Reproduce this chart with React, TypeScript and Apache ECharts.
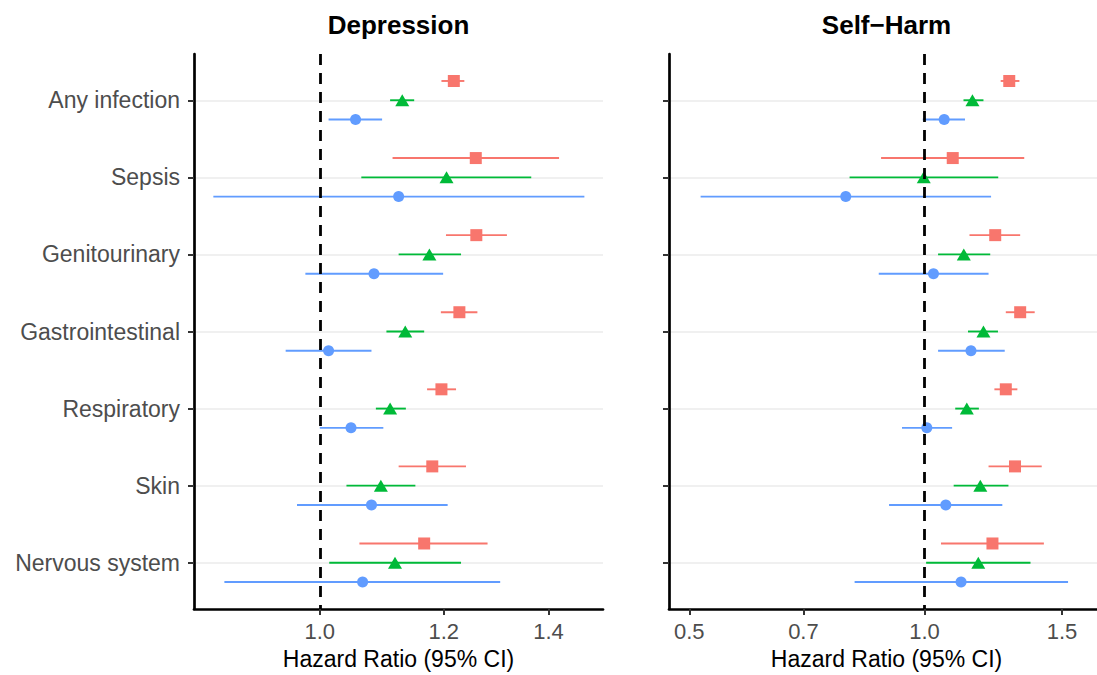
import React, { useEffect, useRef } from "react";
import * as echarts from "echarts";

// ---------- data ----------
const categories = [
  "Any infection",
  "Sepsis",
  "Genitourinary",
  "Gastrointestinal",
  "Respiratory",
  "Skin",
  "Nervous system",
];

const groupNames = ["Group 1", "Group 2", "Group 3"];
const groupColors = ["#F8766D", "#00BA38", "#619CFF"];
const groupSymbols = ["rect", "triangle", "circle"];

// Depression
const depRedEst = [1.218, 1.258, 1.259, 1.228, 1.196, 1.180, 1.166];
const depRedLo = [1.196, 1.113, 1.204, 1.195, 1.171, 1.123, 1.060];
const depRedHi = [1.237, 1.422, 1.317, 1.261, 1.222, 1.240, 1.280];
const depGreenEst = [1.129, 1.205, 1.175, 1.134, 1.109, 1.094, 1.117];
const depGreenLo = [1.109, 1.063, 1.123, 1.103, 1.086, 1.040, 1.014];
const depGreenHi = [1.149, 1.365, 1.231, 1.166, 1.135, 1.151, 1.231];
const depBlueEst = [1.054, 1.123, 1.083, 1.013, 1.047, 1.079, 1.065];
const depBlueLo = [1.013, 0.855, 0.979, 0.951, 1.000, 0.967, 0.869];
const depBlueHi = [1.096, 1.476, 1.199, 1.079, 1.098, 1.207, 1.304];

// Self-Harm
const shRedEst = [1.284, 1.087, 1.232, 1.326, 1.271, 1.306, 1.222];
const shRedLo = [1.252, 0.880, 1.142, 1.271, 1.229, 1.208, 1.050];
const shRedHi = [1.323, 1.342, 1.326, 1.384, 1.315, 1.413, 1.422];
const shGreenEst = [1.152, 0.998, 1.123, 1.190, 1.133, 1.179, 1.172];
const shGreenLo = [1.122, 0.802, 1.041, 1.137, 1.095, 1.090, 1.005];
const shGreenHi = [1.190, 1.243, 1.214, 1.242, 1.174, 1.281, 1.367];
const shBlueEst = [1.060, 0.793, 1.027, 1.147, 1.007, 1.065, 1.114];
const shBlueLo = [0.995, 0.517, 0.874, 1.041, 0.936, 0.901, 0.814];
const shBlueHi = [1.127, 1.217, 1.208, 1.267, 1.085, 1.258, 1.527];

const depTicks = [1.0, 1.2, 1.4];
const shTicks = [0.5, 0.7, 1.0, 1.5];
const depLimits = [0.831, 1.517];
const shLimits = [0.471, 1.663];

const FONT = '"Liberation Sans", Arial, Helvetica, sans-serif';

const panels = [
  {
    title: "Depression",
    est: [depRedEst, depGreenEst, depBlueEst],
    lo: [depRedLo, depGreenLo, depBlueLo],
    hi: [depRedHi, depGreenHi, depBlueHi],
    ticks: depTicks,
    limits: depLimits,
    showLabels: true,
    namePad: [0, 0, 0, 0],
  },
  {
    title: "Self\u2212Harm",
    est: [shRedEst, shGreenEst, shBlueEst],
    lo: [shRedLo, shGreenLo, shBlueLo],
    hi: [shRedHi, shGreenHi, shBlueHi],
    ticks: shTicks,
    limits: shLimits,
    showLabels: false,
    namePad: [0, 0, 0, 7],
  },
];

const dodge = [-0.25, 0, 0.25];

export default function App() {
  const ref = useRef<HTMLDivElement>(null);

  useEffect(() => {
    if (!ref.current) return;
    document.body.style.margin = "0";
    const chart = echarts.init(ref.current, null, { renderer: "svg" });

    const grids = [
      { left: 194, top: 54, width: 409, height: 557 },
      { left: 669, top: 54, width: 428, height: 557 },
    ];

    const xAxes = panels.map((p, pi) => ({
      type: "value",
      gridIndex: pi,
      min: Math.log10(p.limits[0]),
      max: Math.log10(p.limits[1]),
      name: "Hazard Ratio (95% CI)",
      nameLocation: "middle",
      nameGap: 38,
      nameTextStyle: { fontSize: 23, color: "#000", fontFamily: FONT, padding: p.namePad },
      axisLine: { show: true, onZero: false, lineStyle: { color: "#000", width: 2.7 } },
      axisTick: {
        show: true,
        length: 6,
        customValues: p.ticks.map((t) => Math.log10(t)),
        lineStyle: { color: "#333", width: 2 },
      },
      axisLabel: {
        show: true,
        customValues: p.ticks.map((t) => Math.log10(t)),
        formatter: (v: number) => Math.pow(10, v).toFixed(1),
        fontSize: 22,
        color: "#4D4D4D",
        margin: 11,
        fontFamily: FONT,
      },
      splitLine: { show: false },
    }));

    const yAxes = panels.map((p, pi) => ({
      type: "value",
      gridIndex: pi,
      inverse: true,
      min: -0.6,
      max: 6.6,
      axisLine: { show: true, onZero: false, lineStyle: { color: "#000", width: 2.7 } },
      axisTick: {
        show: true,
        length: 6,
        customValues: categories.map((_, i) => i),
        lineStyle: { color: "#333", width: 2 },
      },
      axisLabel: {
        show: p.showLabels,
        customValues: categories.map((_, i) => i),
        formatter: (v: number) => categories[Math.round(v)] ?? "",
        fontSize: 23,
        color: "#4D4D4D",
        margin: 14,
        fontFamily: FONT,
      },
      splitLine: { show: true, lineStyle: { color: "#EBEBEB", width: 1.7 } },
    }));

    const series: any[] = [];
    panels.forEach((p, pi) => {
      for (let g = 0; g < 3; g++) {
        const color = groupColors[g];
        series.push({
          type: "custom",
          name: groupNames[g],
          xAxisIndex: pi,
          yAxisIndex: pi,
          z: 2,
          encode: { x: [1, 2], y: 0 },
          data: categories.map((_, i) => [
            i + dodge[g],
            Math.log10(p.lo[g][i]),
            Math.log10(p.hi[g][i]),
          ]),
          renderItem: (params: any, api: any) => {
            const a = api.coord([api.value(1), api.value(0)]);
            const b = api.coord([api.value(2), api.value(0)]);
            return {
              type: "line",
              shape: { x1: a[0], y1: a[1], x2: b[0], y2: b[1] },
              style: { stroke: color, lineWidth: 1.9 },
            };
          },
        });
        series.push({
          type: "scatter",
          name: groupNames[g],
          xAxisIndex: pi,
          yAxisIndex: pi,
          z: 3,
          symbol: groupSymbols[g],
          symbolSize: g === 1 ? [14, 12] : g === 0 ? 12 : 11,
          itemStyle: { color, opacity: 1 },
          data: categories.map((_, i) => [Math.log10(p.est[g][i]), i + dodge[g]]),
        });
      }
      series.push({
        type: "line",
        name: "ref",
        xAxisIndex: pi,
        yAxisIndex: pi,
        z: 5,
        data: [],
        markLine: {
          silent: true,
          symbol: ["none", "none"],
          label: { show: false },
          lineStyle: { color: "#000", type: [11, 8], width: 2.8 },
          data: [{ xAxis: 0 }],
        },
      });
    });

    chart.setOption({
      animation: false,
      backgroundColor: "#fff",
      grid: grids,
      xAxis: xAxes,
      yAxis: yAxes,
      series,
      graphic: [
        {
          type: "text",
          x: 398.5,
          y: 25,
          style: {
            text: panels[0].title,
            fontSize: 26,
            fontWeight: "bold",
            fontFamily: FONT,
            fill: "#000",
            align: "center",
            verticalAlign: "middle",
          },
        },
        {
          type: "text",
          x: 886.5,
          y: 25,
          style: {
            text: panels[1].title,
            fontSize: 26,
            fontWeight: "bold",
            fontFamily: FONT,
            fill: "#000",
            align: "center",
            verticalAlign: "middle",
          },
        },
      ],
    });

    return () => chart.dispose();
  }, []);

  return (
    <div
      ref={ref}
      style={{ position: "fixed", left: 0, top: 0, width: 1097, height: 675, background: "#fff" }}
    />
  );
}
